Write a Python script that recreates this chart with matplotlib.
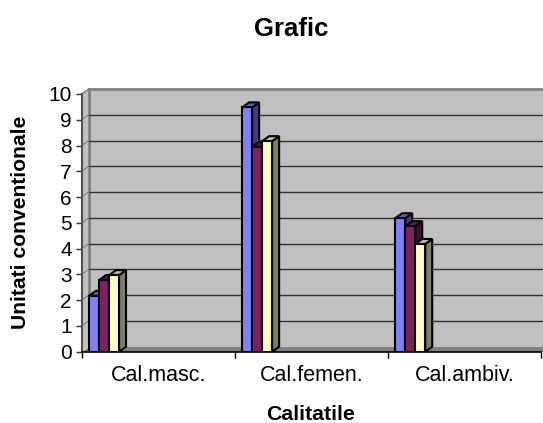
import matplotlib
matplotlib.use('Agg')
import matplotlib.pyplot as plt
from matplotlib.patches import Polygon

categories = ['Cal.masc.', 'Cal.femen.', 'Cal.ambiv.']
serie1 = [2.17, 9.48, 5.18]
serie2 = [2.78, 7.95, 4.87]
serie3 = [2.97, 8.17, 4.18]
yticks = list(range(0, 11))

plt.rcParams['font.family'] = ['Liberation Sans', 'DejaVu Sans']

W, H = 543, 423
fig = plt.figure(figsize=(W / 100, H / 100), dpi=100)

# axes box in pixels: front plane of the 3d look
left, right, bottom, top = 81.7, 541, 351.7, 94
ax = fig.add_axes([left / W, 1 - bottom / H, (right - left) / W, (bottom - top) / H])
ax.set_xlim(0, 3)
ax.set_ylim(0, 10)

# depth of the chart, in data units
dx = 7 / 153
dy = 5 / 25.77
xmax = 3.03

wall = '#c0c0c0'
side = '#808080'
ax.add_patch(Polygon([(dx, dy), (xmax, dy), (xmax, 10 + dy), (dx, 10 + dy)],
                     fc=wall, ec='none', clip_on=False, zorder=1))
ax.add_patch(Polygon([(0, 0), (dx, dy), (dx, 10 + dy), (0, 10)],
                     fc=wall, ec='none', clip_on=False, zorder=1))
ax.add_patch(Polygon([(0, 0), (xmax, 0), (xmax, dy), (dx, dy)],
                     fc=side, ec='none', clip_on=False, zorder=1.5))
ax.plot([dx, dx], [dy, 10 + dy], color=side, lw=2, zorder=2, clip_on=False)
ax.plot([dx, xmax], [10 + dy, 10 + dy], color=side, lw=2, zorder=2, clip_on=False)

for v in yticks[1:10]:
    ax.plot([dx, xmax], [v + dy, v + dy], color='#303030', lw=1, zorder=2, clip_on=False)
    ax.plot([0, dx], [v, v + dy], color=side, lw=0.8, zorder=2, clip_on=False)
ax.plot([0, dx], [10, 10 + dy], color=side, lw=1, zorder=2, clip_on=False)

colors = [('#8080ff', '#6060bf', '#40407f'),
          ('#802060', '#601848', '#401030'),
          ('#ffffc0', '#bfbf90', '#808060')]
series = [serie1, serie2, serie3]
bw = 10 / 153
start = 7.3 / 153
z = 3
for c in range(len(categories)):
    for s, vals in enumerate(series):
        x0 = c + start + s * bw
        x1 = x0 + bw
        v = vals[c]
        front, tp, sd = colors[s]
        ax.bar(x0, v, width=bw, align='edge', color=front, edgecolor='black', lw=1.5, zorder=z + 0.2)
        ax.add_patch(Polygon([(x0, v), (x1, v), (x1 + dx, v + dy), (x0 + dx, v + dy)],
                             fc=tp, ec='black', lw=1.5, zorder=z + 0.1))
        ax.add_patch(Polygon([(x1, 0), (x1 + dx, dy), (x1 + dx, v + dy), (x1, v)],
                             fc=sd, ec='black', lw=1.5, zorder=z))
        z += 1

for sp in ['top', 'right']:
    ax.spines[sp].set_visible(False)
ax.spines['left'].set_color('#505050')
ax.spines['left'].set_linewidth(1.5)
ax.spines['left'].set_zorder(2)
ax.spines['bottom'].set_color('black')
ax.spines['bottom'].set_linewidth(1.2)
ax.spines['bottom'].set_zorder(20)
ax.patch.set_visible(False)

ax.set_yticks(yticks)
ax.set_xticks(range(4))
ax.set_xticklabels([''] * 4)
ax.tick_params(axis='y', length=4, width=1, color='#303030', labelsize=15, pad=3)
ax.tick_params(axis='x', length=4, width=1, color='black')
for i, name in enumerate(categories):
    ax.text(i + 0.5, -0.91, name, ha='center', va='center', fontsize=15.5)

fig.text(291 / W, 1 - 28.5 / H, 'Grafic', ha='center', va='center', fontsize=18.5, fontweight='bold')
fig.text(311 / W, 1 - 414 / H, 'Calitatile', ha='center', va='center', fontsize=15.4, fontweight='bold')
fig.text(20.5 / W, 1 - 222 / H, 'Unitati conventionale', rotation=90, ha='center', va='center',
         fontsize=15.2, fontweight='bold')

fig.savefig('out.png', dpi=100)
